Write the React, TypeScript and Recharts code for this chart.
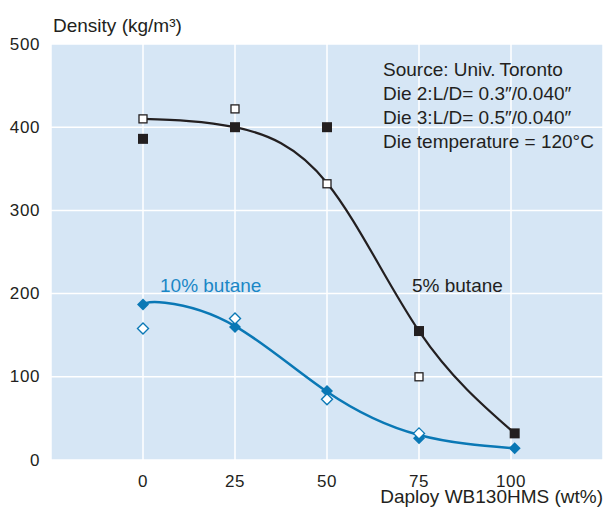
import React from 'react';
import { ComposedChart, Line, Scatter, XAxis, YAxis, CartesianGrid } from 'recharts';

// tick labels
const xTicks = [0, 25, 50, 75, 100];
const yTicks = [0, 100, 200, 300, 400, 500];

// 5% butane, measured points
const b5FilledX = [0, 25, 50, 75, 101];
const b5FilledY = [386, 400, 400, 155, 32];
const b5OpenX = [0, 25, 50, 75];
const b5OpenY = [410, 422, 332, 100];
// 5% butane, fitted curve
const b5CurveX = [0, 25, 50, 75, 101];
const b5CurveY = [410, 400, 333, 155, 32];

// 10% butane, measured points
const b10FilledX = [0, 25, 50, 75, 101];
const b10FilledY = [187, 160, 83, 26, 14];
const b10OpenX = [0, 25, 50, 75];
const b10OpenY = [158, 170, 73, 32];
// 10% butane, fitted curve
const b10CurveX = [0, 6, 25, 50, 75, 101];
const b10CurveY = [187, 189, 161, 82, 30, 14];

const notes = [
  'Source: Univ.\u2009Toronto',
  'Die 2:L/D= 0.3\u2033/0.040\u2033',
  'Die 3:L/D= 0.5\u2033/0.040\u2033',
  'Die temperature = 120\u00b0C',
];

const zip = (xs: number[], ys: number[]) => xs.map((x, i) => ({ x, y: ys[i] }));

const INK = '#231f20';
const BLUE = '#0a78b5';
const FONT = '"Liberation Sans", Arial, sans-serif';
const FS = 19;
const TICK_FS = 17;

const square = (filled: boolean) => (props: any) => {
  const { cx, cy } = props;
  const s = filled ? 10 : 8;
  return (
    <rect
      x={cx - s / 2}
      y={cy - s / 2}
      width={s}
      height={s}
      fill={filled ? INK : '#fff'}
      stroke={INK}
      strokeWidth={filled ? 0 : 1.3}
    />
  );
};

const diamond = (filled: boolean) => (props: any) => {
  const { cx, cy } = props;
  const r = filled ? 6 : 5.5;
  return (
    <path
      d={`M${cx},${cy - r}L${cx + r},${cy}L${cx},${cy + r}L${cx - r},${cy}Z`}
      fill={filled ? BLUE : '#fff'}
      stroke={BLUE}
      strokeWidth={filled ? 0 : 1.4}
    />
  );
};

const XTick = (props: any) => {
  const { x, y, payload } = props;
  return (
    <text x={x} y={y + 13} textAnchor="middle" dominantBaseline="central" fill={INK} fontSize={TICK_FS} letterSpacing={0.6} fontFamily={FONT}>
      {payload.value}
    </text>
  );
};

const YTick = (props: any) => {
  const { x, y, payload } = props;
  return (
    <text x={x - 3} y={y} textAnchor="end" dominantBaseline="central" fill={INK} fontSize={TICK_FS} letterSpacing={0.6} fontFamily={FONT}>
      {payload.value}
    </text>
  );
};

export default function App() {
  return (
    <div style={{ position: 'absolute', left: 0, top: 0, width: 608, height: 507, background: '#fff' }}>
      <ComposedChart width={608} height={507} margin={{ top: 44, right: 5, left: 0, bottom: 0 }}>
        <CartesianGrid fill="#d6e6f5" stroke="#ffffff" strokeWidth={1.5} />
        <XAxis
          type="number"
          dataKey="x"
          domain={[-25, 125]}
          ticks={xTicks}
          height={47}
          axisLine={false}
          tickLine={false}
          tick={<XTick />}
          allowDataOverflow
        />
        <YAxis
          type="number"
          dataKey="y"
          domain={[0, 500]}
          ticks={yTicks}
          width={51}
          axisLine={false}
          tickLine={false}
          tick={<YTick />}
          allowDataOverflow
        />
        <Line data={zip(b5CurveX, b5CurveY)} dataKey="y" type="natural" stroke={INK} strokeWidth={2.2} dot={false} isAnimationActive={false} />
        <Line data={zip(b10CurveX, b10CurveY)} dataKey="y" type="natural" stroke={BLUE} strokeWidth={2.5} dot={false} isAnimationActive={false} />
        <Scatter data={zip(b5FilledX, b5FilledY)} shape={square(true)} isAnimationActive={false} />
        <Scatter data={zip(b5OpenX, b5OpenY)} shape={square(false)} isAnimationActive={false} />
        <Scatter data={zip(b10FilledX, b10FilledY)} shape={diamond(true)} isAnimationActive={false} />
        <Scatter data={zip(b10OpenX, b10OpenY)} shape={diamond(false)} isAnimationActive={false} />
      </ComposedChart>
      <svg width={608} height={507} style={{ position: 'absolute', left: 0, top: 0, pointerEvents: 'none' }}>
        <text x={53} y={25} dominantBaseline="central" fill={INK} fontSize={FS} fontFamily={FONT}>
          Density (kg/m³)
        </text>
        {notes.map((n, i) => (
          <text key={i} x={383} y={69 + i * 24} dominantBaseline="central" fill={INK} fontSize={FS} fontFamily={FONT}>
            {n}
          </text>
        ))}
        <text x={160} y={285} dominantBaseline="central" fill="#1a87c6" fontSize={FS} fontFamily={FONT}>
          10% butane
        </text>
        <text x={412} y={285} dominantBaseline="central" fill={INK} fontSize={FS} fontFamily={FONT}>
          5% butane
        </text>
        <text x={603} y={496} textAnchor="end" dominantBaseline="central" fill={INK} fontSize={FS} fontFamily={FONT}>
          Daploy WB130HMS (wt%)
        </text>
      </svg>
    </div>
  );
}
